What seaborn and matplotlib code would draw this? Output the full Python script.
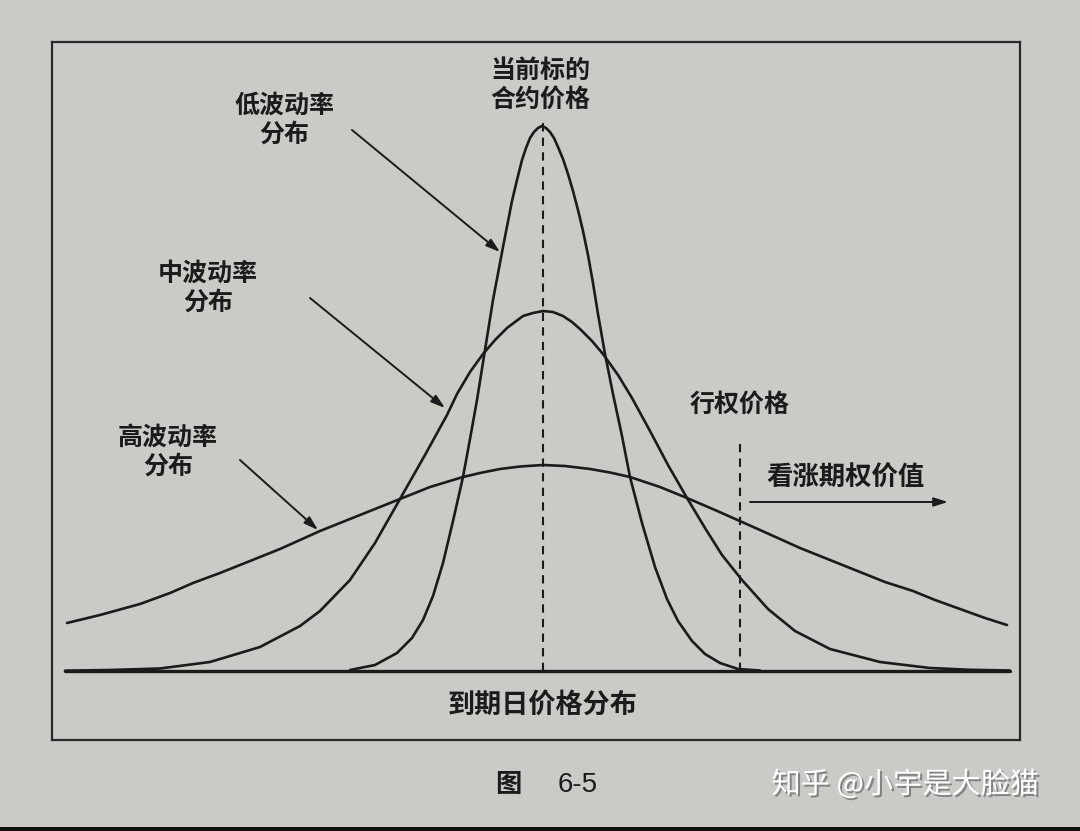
import matplotlib
matplotlib.use("Agg")
import matplotlib.pyplot as plt
import pandas as pd
import seaborn as sns
from matplotlib import patheffects
from matplotlib.patches import Rectangle

# ---- data (price position, density height) ----
low_x = [350, 375, 397, 412, 423, 433, 443, 453, 463, 470, 477, 485, 493, 503, 512, 517, 522, 526,
         530, 534, 538, 542, 546, 550, 554, 558, 563, 568, 573, 578, 583, 588, 593, 598, 605, 613,
         622, 630, 642, 655, 667, 678, 692, 705, 720, 738, 760]
low_y = [1, 6, 18, 33, 51, 75, 108, 150, 194, 232, 271, 321, 371, 424, 470, 491, 511, 523,
         533, 539, 543, 545, 543, 539, 533, 524, 512, 497, 480, 461, 440, 416, 388, 357, 317, 277,
         235, 194, 148, 104, 72, 50, 30, 17, 8, 2, 0.5]

mid_x = [65, 110, 160, 210, 260, 300, 320, 350, 375, 400, 425, 447, 457, 470, 483, 495, 507, 515,
         523, 533, 543, 553, 563, 572, 580, 592, 603, 618, 632, 650, 668, 687, 705, 722, 742, 768,
         795, 830, 880, 930, 970, 1010]
mid_y = [0.3, 1, 2.5, 9, 24, 45, 60, 91, 128, 172, 216, 256, 277, 299, 317, 331, 343, 349,
         355, 358, 360, 359, 355, 349, 342, 330, 317, 296, 273, 240, 206, 173, 143, 116, 91, 62,
         40, 22, 9, 3, 1.2, 0.5]

high_x = [67, 100, 140, 170, 193, 220, 240, 260, 280, 300, 320, 340, 360, 380, 400, 430, 463, 480,
          500, 520, 543, 565, 590, 610, 630, 660, 687, 715, 742, 760, 780, 800, 820, 840, 860, 885,
          913, 935, 960, 985, 1007]
high_y = [48, 56, 67, 78, 88, 98, 106, 114, 122, 131, 140, 148, 156, 164, 172, 184, 194, 198,
          202, 204.5, 206, 205, 202, 198.5, 194, 184, 173, 161, 149, 141, 132, 123, 115, 107, 99, 89,
          80, 71, 62, 53, 46]

baseline_x = [65, 1010]
baseline_y = [0, 0]

spot_price = 543
spot_top = 548
strike_price = 740
strike_top = 232

label_spot = "当前标的\n合约价格"
label_low = "低波动率\n分布"
label_mid = "中波动率\n分布"
label_high = "高波动率\n分布"
label_strike = "行权价格"
label_call = "看涨期权价值"
label_xaxis = "到期日价格分布"
caption_char = "图"
caption_num = "6-5"
watermark = "知乎 @小宇是大脸猫"

# ---- style ----
sns.set_theme(style="white")
plt.rcParams["font.family"] = ["Noto Sans CJK SC", "DejaVu Sans"]

paper = "#cacac6"
ink = "#1b1b1b"

fig = plt.figure(figsize=(10.8, 8.31), dpi=100, facecolor=paper)
ax = fig.add_axes([52 / 1080, (831 - 740) / 831, 968 / 1080, 698 / 831])
ax.set_facecolor(paper)

curves = pd.concat([
    pd.DataFrame({"price": low_x, "density": low_y, "curve": "low"}),
    pd.DataFrame({"price": mid_x, "density": mid_y, "curve": "mid"}),
    pd.DataFrame({"price": high_x, "density": high_y, "curve": "high"}),
])
for name, sub in curves.groupby("curve"):
    sns.lineplot(data=sub, x="price", y="density", ax=ax, color=ink, lw=1.9,
                 sort=True, estimator=None, legend=False,
                 solid_joinstyle="round", solid_capstyle="round")

sns.lineplot(x=baseline_x, y=baseline_y, ax=ax, color=ink, lw=2.4, legend=False)

ax.plot([spot_price, spot_price], [0, spot_top], color=ink, lw=1.5, ls=(0, (4, 3)))
ax.plot([strike_price, strike_price], [0, strike_top], color=ink, lw=1.5, ls=(0, (4, 3)))

ax.set_xlim(52, 1020)
ax.set_ylim(-69, 629)
ax.set_xticks([])
ax.set_yticks([])
ax.set_xlabel("")
ax.set_ylabel("")
for s in ax.spines.values():
    s.set_visible(True)
    s.set_color("#2a2a2a")
    s.set_linewidth(1.6)

tk = dict(fontsize=18, color=ink, ha="center", va="center", linespacing=1.25, fontweight="bold")
ax.text(540, 586, label_spot, **tk)
ax.text(284, 551, label_low, **tk)
ax.text(208, 383, label_mid, **tk)
ax.text(168, 219, label_high, **tk)
ax.text(740, 266, label_strike, **tk)
ax.text(845, 193, label_call, **{**tk, "fontsize": 19})
ax.text(543, -34, label_xaxis, **{**tk, "fontsize": 19.5})

ap = dict(arrowstyle="-|>,head_length=0.7,head_width=0.22", color=ink, lw=1.4, shrinkA=0, shrinkB=0)
ax.annotate("", xy=(500, 419), xytext=(352, 541), arrowprops=ap)
ax.annotate("", xy=(445, 263), xytext=(310, 373), arrowprops=ap)
ax.annotate("", xy=(318, 141), xytext=(240, 211), arrowprops=ap)
ax.annotate("", xy=(948, 169), xytext=(750, 169), arrowprops=ap)

fig.text(508 / 1080, (831 - 785) / 831, caption_char, fontsize=19, color=ink,
         ha="center", va="center", fontweight="bold")
fig.text(578 / 1080, (831 - 785) / 831, caption_num, fontsize=20, color=ink,
         ha="center", va="center", family=["Liberation Sans", "DejaVu Sans"])
fig.text(905 / 1080, (831 - 785) / 831, watermark, fontsize=21, color="white",
         ha="center", va="center",
         path_effects=[patheffects.withSimplePatchShadow(offset=(1.5, -1.5), shadow_rgbFace="#555555", alpha=0.6)])

fig.patches.append(Rectangle((0, 0), 1, 4 / 831, transform=fig.transFigure,
                             facecolor="#111111", edgecolor="none"))

fig.savefig("out.png", dpi=100, facecolor=paper)
